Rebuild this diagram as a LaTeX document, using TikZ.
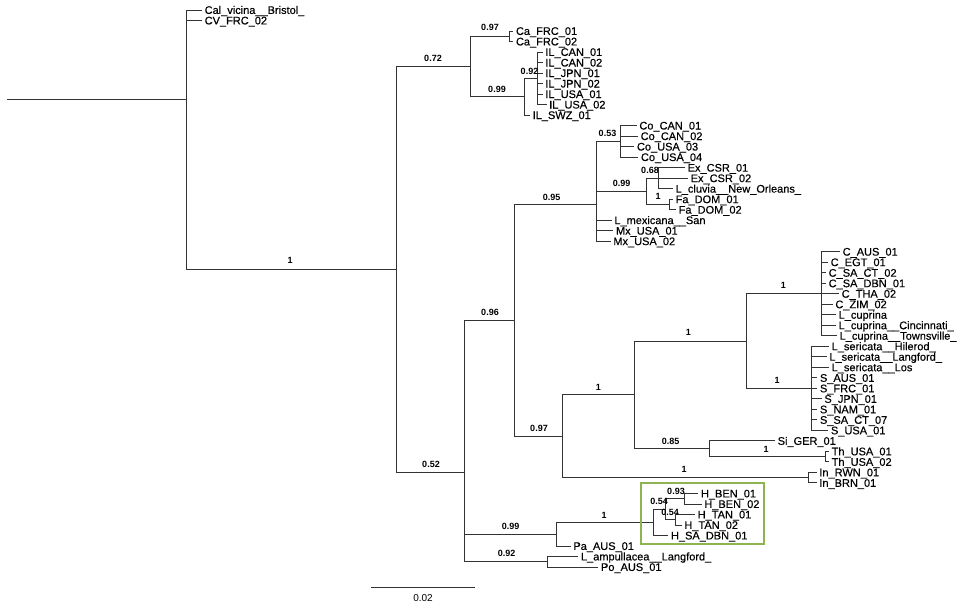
\documentclass[tikz,border=0pt]{standalone}
\usepackage{fontspec}
\setmainfont{Liberation Sans}
\newfontfamily\tipfont[FakeBold=0.35]{Liberation Sans}
\definecolor{boxgreen}{RGB}{141,180,80}
\newcommand{\tipleaf}[4]{\coordinate (#1) at (#2,#3); \node[tiplab] (#1l) at (#2+2.5,#3+3.9) {#4};}
\newcommand{\joinall}[2]{\foreach \c in {#2} {\draw[br] (#1) |- (\c);}}
\begin{document}
\begin{tikzpicture}[x=1pt,y=-1pt,
  br/.style={draw=black!80,line width=1pt},
  tiplab/.style={anchor=base west,inner sep=0pt,font=\tipfont\fontsize{11}{11}\selectfont},
  bs/.style={anchor=base,inner sep=0pt,font=\fontsize{9}{9}\selectfont\bfseries}]
\useasboundingbox (0,0) rectangle (961,605);

% internal nodes
\coordinate (R0) at (7,99.9);
\coordinate (R) at (186,99.9);
\coordinate (N1) at (396.7,269.35);
\coordinate (A) at (470,66.5);
\coordinate (Ca) at (509.3,36.25);
\coordinate (ILo) at (524.3,96.7);
\coordinate (IL) at (537.3,78.3);
\coordinate (B) at (464,472.2);
\coordinate (D) at (514.3,320.6);
\coordinate (E) at (596.7,204.95);
\coordinate (Co) at (620.3,141.35);
\coordinate (F) at (646.7,191.3);
\coordinate (Ex) at (658.3,178.2);
\coordinate (Fa) at (669,204.45);
\coordinate (G) at (562.7,436.3);
\coordinate (K) at (634,394.9);
\coordinate (L) at (746,341.05);
\coordinate (C) at (821.7,293.75);
\coordinate (S) at (811.7,388.35);
\coordinate (Si) at (709.3,448.8);
\coordinate (Th) at (825.7,456.65);
\coordinate (In) at (808.3,477.65);
\coordinate (P) at (556.7,534.2);
\coordinate (H) at (653.3,522.4);
\coordinate (HI) at (665.7,509.25);
\coordinate (HB) at (684,498.75);
\coordinate (HT) at (675,519.75);
\coordinate (Am) at (547.3,561.75);

% tips
\tipleaf{t1}{202}{10.0}{Cal\_vicina\_\_Bristol\_}
\tipleaf{t2}{202}{20.5}{CV\_FRC\_02}
\tipleaf{t3}{513.3}{31.0}{Ca\_FRC\_01}
\tipleaf{t4}{513.3}{41.5}{Ca\_FRC\_02}
\tipleaf{t5}{542.7}{52.0}{IL\_CAN\_01}
\tipleaf{t6}{542.7}{62.6}{IL\_CAN\_02}
\tipleaf{t7}{542.7}{73.1}{IL\_JPN\_01}
\tipleaf{t8}{542.7}{83.6}{IL\_JPN\_02}
\tipleaf{t9}{542.7}{94.1}{IL\_USA\_01}
\tipleaf{t10}{546.5}{104.6}{IL\_USA\_02}
\tipleaf{t11}{530}{115.1}{IL\_SWZ\_01}
\tipleaf{t12}{636.7}{125.6}{Co\_CAN\_01}
\tipleaf{t13}{638}{136.1}{Co\_CAN\_02}
\tipleaf{t14}{634.3}{146.6}{Co\_USA\_03}
\tipleaf{t15}{638.3}{157.1}{Co\_USA\_04}
\tipleaf{t16}{685}{167.7}{Ex\_CSR\_01}
\tipleaf{t17}{688}{178.2}{Ex\_CSR\_02}
\tipleaf{t18}{673}{188.7}{L\_cluvia\_\_New\_Orleans\_}
\tipleaf{t19}{673}{199.2}{Fa\_DOM\_01}
\tipleaf{t20}{676}{209.7}{Fa\_DOM\_02}
\tipleaf{t21}{611.7}{220.2}{L\_mexicana\_\_San}
\tipleaf{t22}{613.3}{230.7}{Mx\_USA\_01}
\tipleaf{t23}{610.7}{241.2}{Mx\_USA\_02}
\tipleaf{t24}{840}{251.7}{C\_AUS\_01}
\tipleaf{t25}{828}{262.2}{C\_EGT\_01}
\tipleaf{t26}{826}{272.8}{C\_SA\_CT\_02}
\tipleaf{t27}{826}{283.3}{C\_SA\_DBN\_01}
\tipleaf{t28}{839}{293.8}{C\_THA\_02}
\tipleaf{t29}{832.7}{304.3}{C\_ZIM\_02}
\tipleaf{t30}{836}{314.8}{L\_cuprina}
\tipleaf{t31}{836}{325.3}{L\_cuprina\_\_Cincinnati\_}
\tipleaf{t32}{837}{335.8}{L\_cuprina\_\_Townsville\_}
\tipleaf{t33}{829}{346.3}{L\_sericata\_\_Hilerod\_}
\tipleaf{t34}{826.7}{356.8}{L\_sericata\_\_Langford\_}
\tipleaf{t35}{829}{367.3}{L\_sericata\_\_Los}
\tipleaf{t36}{817.3}{377.9}{S\_AUS\_01}
\tipleaf{t37}{817.3}{388.4}{S\_FRC\_01}
\tipleaf{t38}{821.7}{398.9}{S\_JPN\_01}
\tipleaf{t39}{817.3}{409.4}{S\_NAM\_01}
\tipleaf{t40}{817.3}{419.9}{S\_SA\_CT\_07}
\tipleaf{t41}{828.3}{430.4}{S\_USA\_01}
\tipleaf{t42}{775}{440.9}{Si\_GER\_01}
\tipleaf{t43}{829}{451.4}{Th\_USA\_01}
\tipleaf{t44}{829}{461.9}{Th\_USA\_02}
\tipleaf{t45}{816.7}{472.4}{In\_RWN\_01}
\tipleaf{t46}{816.7}{482.9}{In\_BRN\_01}
\tipleaf{t47}{698.3}{493.5}{H\_BEN\_01}
\tipleaf{t48}{701.7}{504.0}{H\_BEN\_02}
\tipleaf{t49}{695}{514.5}{H\_TAN\_01}
\tipleaf{t50}{681.7}{525.0}{H\_TAN\_02}
\tipleaf{t51}{668.3}{535.5}{H\_SA\_DBN\_01}
\tipleaf{t52}{570.7}{546.0}{Pa\_AUS\_01}
\tipleaf{t53}{578.3}{556.5}{L\_ampullacea\_\_Langford\_}
\tipleaf{t54}{598.3}{567.0}{Po\_AUS\_01}

% branches
\draw[br] (R0) -- (R);
\joinall{R}{t1,t2,N1}
\joinall{N1}{A,B}
\joinall{A}{Ca,ILo}
\joinall{Ca}{t3,t4}
\joinall{ILo}{IL,t11}
\joinall{IL}{t5,t6,t7,t8,t9,t10}
\joinall{B}{D,P,Am}
\joinall{D}{E,G}
\joinall{E}{Co,F,t21,t22,t23}
\joinall{Co}{t12,t13,t14,t15}
\joinall{F}{Ex,Fa}
\joinall{Ex}{t16,t17,t18}
\joinall{Fa}{t19,t20}
\joinall{G}{K,In}
\joinall{K}{L,Si}
\joinall{L}{C,S}
\joinall{C}{t24,t25,t26,t27,t28,t29,t30,t31,t32}
\joinall{S}{t33,t34,t35,t36,t37,t38,t39,t40,t41}
\joinall{Si}{t42,Th}
\joinall{Th}{t43,t44}
\joinall{In}{t45,t46}
\joinall{P}{H,t52}
\joinall{H}{HI,t51}
\joinall{HI}{HB,HT}
\joinall{HB}{t47,t48}
\joinall{HT}{t49,t50}
\joinall{Am}{t53,t54}

% support values
\node[bs] (s1) at (290,263.5) {1};
\node[bs] (s2) at (433,61) {0.72};
\node[bs] (s3) at (490,30.5) {0.97};
\node[bs] (s4) at (497,92) {0.99};
\node[bs] (s5) at (529.5,74.5) {0.92};
\node[bs] (s6) at (607.5,136.5) {0.53};
\node[bs] (s7) at (621.7,186.5) {0.99};
\node[bs] (s8) at (650,173) {0.68};
\node[bs] (s9) at (658,199.5) {1};
\node[bs] (s10) at (551.7,200.5) {0.95};
\node[bs] (s11) at (490,315.5) {0.96};
\node[bs] (s12) at (431,467.5) {0.52};
\node[bs] (s13) at (539,431) {0.97};
\node[bs] (s14) at (598.3,390) {1};
\node[bs] (s15) at (688.3,335.5) {1};
\node[bs] (s16) at (670.7,444) {0.85};
\node[bs] (s17) at (684,472.5) {1};
\node[bs] (s18) at (783.3,288) {1};
\node[bs] (s19) at (777,383) {1};
\node[bs] (s20) at (766,452.5) {1};
\node[bs] (s21) at (510.7,529) {0.99};
\node[bs] (s22) at (604,518) {1};
\node[bs] (s23) at (676,494) {0.93};
\node[bs] (s24) at (659,504) {0.54};
\node[bs] (s25) at (670,515.5) {0.54};
\node[bs] (s26) at (506.7,556.5) {0.92};

% highlight box
\draw[boxgreen,line width=2.2pt] (641,483.3) rectangle (764.3,544);

% scale bar
\coordinate (sb1) at (371,587.3);
\coordinate (sb2) at (475,587.3);
\draw[br] (sb1) -- (sb2);
\node[anchor=base,inner sep=0pt,font=\fontsize{10}{10}\selectfont] (sbl) at (423,601) {0.02};
\end{tikzpicture}
\end{document}
